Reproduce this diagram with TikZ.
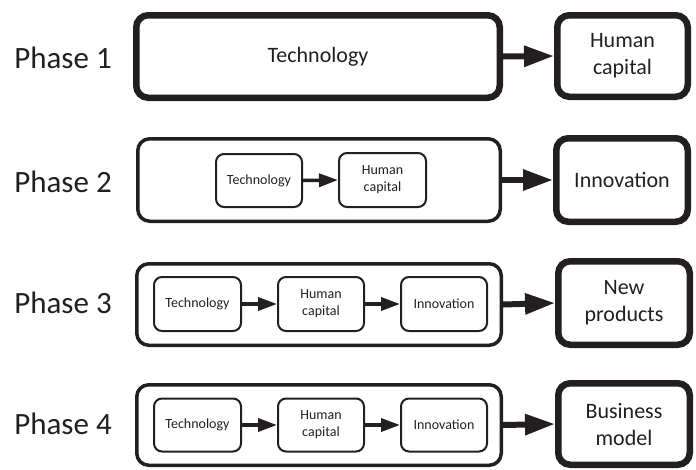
\documentclass[tikz,border=0pt]{standalone}
\usepackage{fontspec}
\setmainfont{Carlito}
\usetikzlibrary{arrows.meta}
\definecolor{ink}{RGB}{35,31,32}
\tikzset{
  bigbox/.style={draw=ink, line width=6.5pt, rounded corners=12pt, align=center, text=ink, font=\fontsize{22}{27}\selectfont, inner sep=0pt},
  outerbox/.style={draw=ink, line width=3.5pt, rounded corners=12pt, inner sep=0pt},
  smallbox/.style={draw=ink, line width=2pt, rounded corners=8pt, align=center, text=ink, font=\fontsize{14}{17}\selectfont, inner sep=0pt},
  phaselabel/.style={text=ink, font=\fontsize{31}{37}\selectfont, inner sep=0pt},
  bigarrow/.style={draw=ink, line width=6pt, -{Triangle[length=30pt,width=20pt]}},
  smallarrow/.style={draw=ink, line width=3.5pt, -{Triangle[length=19pt,width=13pt]}},
}
\begin{document}
\begin{tikzpicture}[x=1pt,y=-1pt]
\useasboundingbox (0,0) rectangle (696,469);
% Phase 1
\node[phaselabel] (l1) at (63,58) {Phase 1};
\node[bigbox, minimum width=363.5pt, minimum height=82.5pt] (p1a) at (318,56.5) {Technology};
\node[bigbox, minimum width=130.5pt, minimum height=81.5pt] (p1b) at (622.5,56) {Human\\capital};
\draw[bigarrow] (p1a.east) -- (p1b.west);
% Phase 2
\node[phaselabel] (l2) at (63,182) {Phase 2};
\node[outerbox, minimum width=362.5pt, minimum height=82.5pt] (p2o) at (319,180) {};
\node[smallbox, minimum width=86pt, minimum height=53pt] (p2t) at (259,180.5) {Technology};
\node[smallbox, minimum width=87pt, minimum height=54pt] (p2h) at (382.5,180) {Human\\capital};
\node[bigbox, minimum width=131.5pt, minimum height=83.5pt] (p2i) at (622,180) {Innovation};
\draw[smallarrow] (p2t.east) -- (p2h.west);
\draw[bigarrow] (p2o.east) -- (p2i.west);
% Phase 3
\node[phaselabel] (l3) at (63,303) {Phase 3};
\node[outerbox, minimum width=364.5pt, minimum height=81.5pt] (p3o) at (319,304.5) {};
\node[smallbox, minimum width=87pt, minimum height=54pt] (p3t) at (197.5,304) {Technology};
\node[smallbox, minimum width=86pt, minimum height=54pt] (p3h) at (321,304) {Human\\capital};
\node[smallbox, minimum width=86pt, minimum height=54pt] (p3i) at (444,304) {Innovation};
\node[bigbox, minimum width=131.5pt, minimum height=83.5pt] (p3n) at (624,303) {New\\products};
\draw[smallarrow] (p3t.east) -- (p3h.west);
\draw[smallarrow] (p3h.east) -- (p3i.west);
\draw[bigarrow] (p3o.east) -- (p3n.west);
% Phase 4
\node[phaselabel] (l4) at (63,424) {Phase 4};
\node[outerbox, minimum width=364.5pt, minimum height=80.5pt] (p4o) at (319,425) {};
\node[smallbox, minimum width=87pt, minimum height=53pt] (p4t) at (197.5,425) {Technology};
\node[smallbox, minimum width=86pt, minimum height=53pt] (p4h) at (321,425) {Human\\capital};
\node[smallbox, minimum width=86pt, minimum height=53pt] (p4i) at (444,425) {Innovation};
\node[bigbox, minimum width=131.5pt, minimum height=81.5pt] (p4b) at (624,424) {Business\\model};
\draw[smallarrow] (p4t.east) -- (p4h.west);
\draw[smallarrow] (p4h.east) -- (p4i.west);
\draw[bigarrow] (p4o.east) -- (p4b.west);
\end{tikzpicture}
\end{document}
